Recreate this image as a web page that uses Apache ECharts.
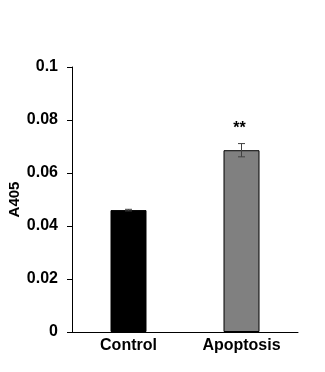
<!DOCTYPE html>
<html><head><meta charset="utf-8">
<script src="https://cdn.jsdelivr.net/npm/echarts@6/dist/echarts.min.js"></script>
<style>html,body{margin:0;padding:0;background:#fff}#c{width:325px;height:372px}</style>
</head><body><div id="c"></div>
<script>
const categories = ['Control', 'Apoptosis'];
const values = [0.046, 0.0686];
const errors = [0.0003, 0.0025];
const significance = ['', '**'];
const barColors = ['#000000', '#808080'];
const yTicks = { min: 0, max: 0.1, interval: 0.02 };
const yName = 'A405';

const chart = echarts.init(document.getElementById('c'), null, { renderer: 'canvas' });
const font = 'Liberation Sans, Arial, sans-serif';
chart.setOption({
  animation: false,
  grid: { left: 72, right: 27, top: 67, bottom: 40, containLabel: false, outerBoundsMode: 'none' },
  xAxis: {
    type: 'category', data: categories,
    axisLine: { lineStyle: { color: '#000', width: 1 } },
    axisTick: { show: false },
    axisLabel: { color: '#000', fontFamily: font, fontWeight: 'bold', fontSize: 16, margin: 6 }
  },
  yAxis: {
    type: 'value', min: yTicks.min, max: yTicks.max, interval: yTicks.interval,
    name: yName, nameLocation: 'middle', nameGap: 50, nameRotate: 90, nameMoveOverlap: false,
    nameTextStyle: { color: '#000', fontFamily: font, fontWeight: 'bold', fontSize: 15 },
    splitLine: { show: false },
    axisLine: { show: true, lineStyle: { color: '#000', width: 1 } },
    axisTick: { show: true, length: 5, lineStyle: { color: '#000' } },
    axisLabel: { color: '#000', fontFamily: font, fontWeight: 'bold', fontSize: 16, margin: 14,
      formatter: v => String(Math.round(v * 100) / 100) }
  },
  series: [
    {
      type: 'bar', barWidth: 36,
      data: values.map((v, i) => ({ value: v, itemStyle: { color: barColors[i], borderColor: '#000', borderWidth: 1 } }))
    },
    {
      type: 'custom',
      data: values.map((v, i) => [i, v, errors[i], significance[i]]),
      renderItem: function (params, api) {
        const x = api.value(0), v = api.value(1), e = api.value(2);
        const hi = api.coord([x, v + e]);
        const lo = api.coord([x, v - e]);
        const cx = hi[0];
        const col = '#404040';
        const w = 6;
        const sig = significance[params.dataIndex];
        const children = [
          { type: 'line', shape: { x1: cx, y1: hi[1], x2: cx, y2: lo[1] }, style: { stroke: col, lineWidth: 1 } },
          { type: 'line', shape: { x1: cx - w / 2 - 0.5, y1: hi[1], x2: cx + w / 2 + 0.5, y2: hi[1] }, style: { stroke: col, lineWidth: 1 } },
          { type: 'line', shape: { x1: cx - w / 2 - 0.5, y1: lo[1], x2: cx + w / 2 + 0.5, y2: lo[1] }, style: { stroke: col, lineWidth: 1 } }
        ];
        if (sig) {
          children.push({ type: 'text', x: cx - 2, y: hi[1] - 15,
            style: { text: sig, fill: '#000', font: 'bold 16px ' + font, align: 'center', verticalAlign: 'middle' } });
        }
        return { type: 'group', children: children };
      },
      z: 5
    }
  ]
});
</script></body></html>
